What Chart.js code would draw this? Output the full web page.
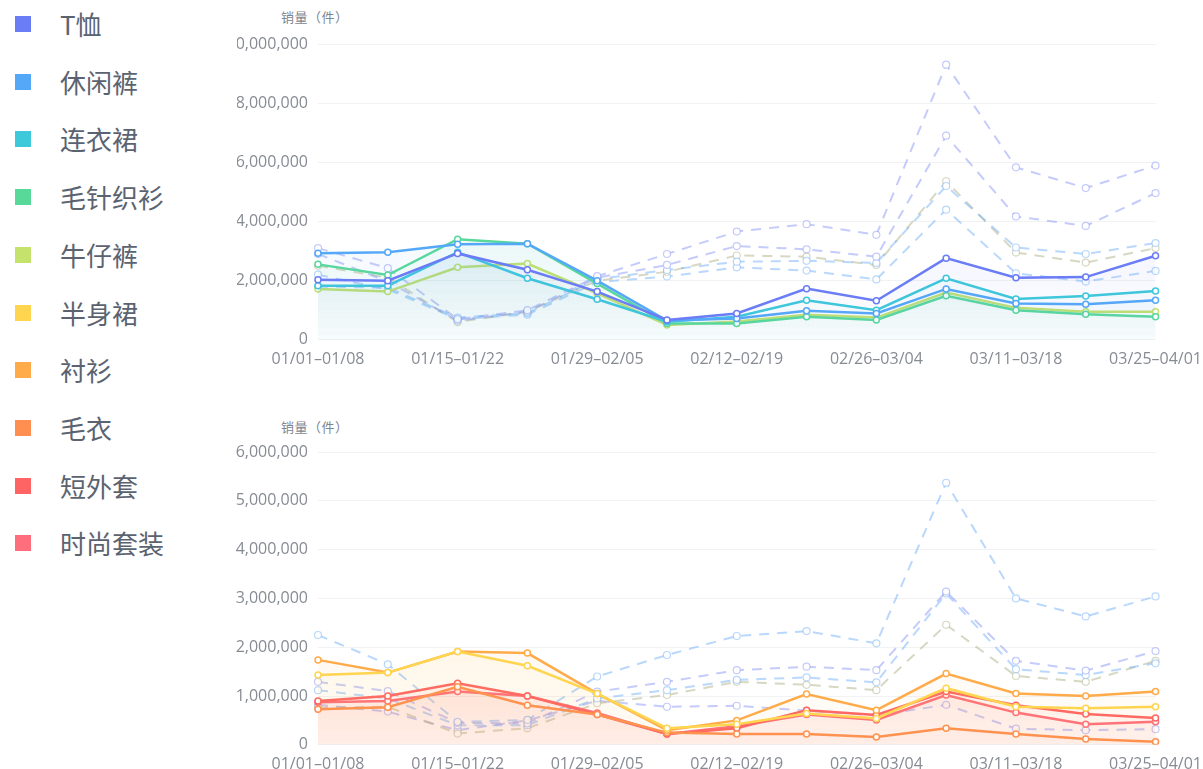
<!DOCTYPE html>
<html><head><meta charset="utf-8">
<script src="https://cdn.jsdelivr.net/npm/chart.js@4/dist/chart.umd.min.js"></script>
<style>
html,body{margin:0;padding:0;background:#fff;width:1203px;height:769px;overflow:hidden;font-family:"Noto Sans CJK SC","Noto Sans",sans-serif;}
.item{position:absolute;left:15px;height:30px;display:flex;align-items:center;}
.sw{width:16px;height:16px;margin-right:29px;flex:none;}
.lbl{font-size:26px;color:#5b6370;line-height:30px;white-space:nowrap;}
.clip{position:absolute;overflow:hidden;}
.inner{position:absolute;}
.ytitle{position:absolute;font-size:13px;color:#7d8590;line-height:16px;white-space:nowrap;letter-spacing:0.5px;}
</style></head>
<body>
<div id="legend"></div>
<div class="ytitle" style="left:281px;top:9px">销量（件）</div>
<div class="ytitle" style="left:281px;top:419px">销量（件）</div>
<div class="clip" style="left:237px;top:0;width:966px;height:380px"><div class="inner" style="left:-17px;top:0;width:992px;height:380px"><canvas id="cTop"></canvas></div></div>
<div class="clip" style="left:200px;top:410px;width:1003px;height:359px"><div class="inner" style="left:20px;top:0;width:992px;height:380px"><canvas id="cBottom"></canvas></div></div>
<script>
// ---------- DATA ----------
const categories = ['01/01–01/08','01/08–01/15','01/15–01/22','01/22–01/29','01/29–02/05','02/05–02/12','02/12–02/19','02/19–02/26','02/26–03/04','03/04–03/11','03/11–03/18','03/18–03/25','03/25–04/01'];

const topNames = ['T恤','休闲裤','连衣裙','毛针织衫','牛仔裤'];
const topColors = ['#6A7CF6','#55A8F8','#3DC9DA','#58D99A','#C4E26C'];
const tshirt   = [2030000,2000000,2920000,2370000,1630000,670000,890000,1730000,1320000,2760000,2100000,2120000,2840000];
const pants    = [2930000,2960000,3230000,3250000,2000000,650000,720000,980000,890000,1720000,1230000,1200000,1340000];
const dress    = [1830000,1830000,2960000,2080000,1370000,610000,780000,1340000,1000000,2080000,1380000,1480000,1650000];
const knit     = [2550000,2190000,3400000,3250000,1900000,550000,550000,780000,670000,1490000,1000000,860000,780000];
const jeans    = [1720000,1630000,2450000,2580000,1570000,500000,620000,850000,750000,1600000,1080000,950000,950000];

const topPrev1 = [3100000,2420000,700000,1000000,2150000,2900000,3660000,3910000,3550000,9300000,5830000,5130000,5890000];
const topPrev2 = [2900000,1970000,650000,950000,2100000,2530000,3170000,3060000,2810000,6900000,4170000,3850000,4960000];
const topPrev3 = [1800000,1760000,750000,900000,2050000,2360000,2640000,2670000,2600000,5200000,3120000,2900000,3270000];
const topPrev4 = [2500000,2100000,600000,950000,2000000,2300000,2850000,2810000,2530000,5360000,2950000,2610000,3100000];
const topPrev5 = [2200000,1700000,700000,850000,1950000,2140000,2450000,2340000,2040000,4400000,2250000,1970000,2330000];

const botNames = ['半身裙','衬衫','毛衣','短外套','时尚套装'];
const botColors = ['#FFD54F','#FFAB4A','#FF8F50','#FF6464','#FF6E7C'];
const skirt    = [1430000,1480000,1910000,1620000,1050000,340000,420000,640000,540000,1160000,780000,750000,780000];
const shirt    = [1740000,1480000,1910000,1880000,1050000,300000,500000,1040000,710000,1460000,1050000,1000000,1090000];
const sweater  = [730000,770000,1190000,810000,620000,250000,220000,220000,160000,340000,220000,120000,60000];
const jacket   = [900000,1000000,1260000,1000000,620000,220000,340000,710000,610000,1090000,810000,630000,550000];
const suit     = [870000,900000,1090000,1000000,650000,220000,380000,620000,510000,1020000,660000,420000,470000];

const botPrev1 = [2250000,1650000,470000,510000,1400000,1840000,2230000,2330000,2080000,5370000,3000000,2630000,3040000];
const botPrev2 = [1290000,1100000,450000,440000,1090000,1290000,1530000,1600000,1530000,3140000,1720000,1520000,1920000];
const botPrev3 = [1120000,950000,400000,400000,950000,1120000,1330000,1380000,1280000,3100000,1550000,1430000,1670000];
const botPrev4 = [760000,780000,230000,340000,850000,1020000,1290000,1230000,1120000,2460000,1410000,1290000,1720000];
const botPrev5 = [820000,680000,300000,500000,900000,780000,800000,700000,600000,820000,330000,300000,320000];

const topTicks = {max:10000000, step:2000000};
const botTicks = {max:6000000, step:1000000};

// dashed colours
const LAV = 'rgba(140,152,245,0.5)';
const LBL = 'rgba(115,178,250,0.5)';
const GRY = 'rgba(175,178,135,0.5)';

// ---------- LEGEND ----------
const legend = document.getElementById('legend');
topNames.concat(botNames).forEach((n,i)=>{
  const c = topColors.concat(botColors)[i];
  const d = document.createElement('div');
  d.className='item'; d.style.top=(9+57.7*i)+'px';
  d.innerHTML='<div class="sw" style="background:'+c+'"></div><div class="lbl">'+n+'</div>';
  legend.appendChild(d);
});

function rgba(hex,a){const v=parseInt(hex.slice(1),16);return 'rgba('+(v>>16&255)+','+(v>>8&255)+','+(v&255)+','+a+')';}
function grad(hex,a0,a1){
  return (ctx)=>{const ch=ctx.chart, a=ch.chartArea; if(!a) return 'transparent';
    const g=ch.ctx.createLinearGradient(0,a.top,0,a.bottom); g.addColorStop(0,rgba(hex,a0)); g.addColorStop(1,rgba(hex,a1)); return g;};
}
function solid(label,data,color,a0,a1){
  return {label,data,borderColor:color,borderWidth:2.5,pointRadius:3,pointHoverRadius:3,pointBorderWidth:1.5,
    pointBackgroundColor:'#fff',pointBorderColor:color,fill:'origin',backgroundColor:grad(color,a0,a1),tension:0};
}
function dashed(label,data,color){
  return {label,data,borderColor:color,borderWidth:2,borderDash:[10,8],pointRadius:3.5,pointBorderWidth:1.2,
    pointBackgroundColor:'#fff',pointBorderColor:color,fill:false,tension:0};
}
const FONT = {family:'"Open Sans","Noto Sans CJK SC",sans-serif',size:16};
function opts(t,padTop,padBottom){
  return {responsive:true,maintainAspectRatio:false,animation:false,
    layout:{padding:{top:padTop,bottom:padBottom,left:0,right:0}},
    plugins:{legend:{display:false},tooltip:{enabled:false}},
    scales:{
      x:{grid:{display:false,drawTicks:false},border:{display:false},
        ticks:{color:'#878b93',font:FONT,padding:10,autoSkip:false,maxRotation:0,
          callback:function(v,i){return i%2===0?this.getLabelForValue(v):'';}}},
      y:{min:0,max:t.max,grid:{color:'#f1f2f4',drawTicks:false},border:{display:false},
        afterFit:(s)=>{s.width=98;},
        ticks:{stepSize:t.step,color:'#878b93',font:FONT,padding:10,
          callback:(v)=>Number(v).toLocaleString('en-US')}}
    }};
}
new Chart(document.getElementById('cTop'),{type:'line',
  data:{labels:categories,datasets:[
    solid(topNames[0],tshirt,topColors[0],0.2,0.01),
    solid(topNames[1],pants,topColors[1],0.15,0.01),
    solid(topNames[2],dress,topColors[2],0.16,0.01),
    solid(topNames[3],knit,topColors[3],0.16,0.01),
    solid(topNames[4],jeans,topColors[4],0.15,0.01),
    dashed('T恤 同期',topPrev1,LAV),
    dashed('休闲裤 同期',topPrev2,LAV),
    dashed('连衣裙 同期',topPrev3,LBL),
    dashed('毛针织衫 同期',topPrev4,GRY),
    dashed('牛仔裤 同期',topPrev5,LBL)
  ]},options:opts(topTicks,44,1)});
new Chart(document.getElementById('cBottom'),{type:'line',
  data:{labels:categories,datasets:[
    solid(botNames[0],skirt,botColors[0],0.14,0.02),
    solid(botNames[1],shirt,botColors[1],0.15,0.03),
    solid(botNames[2],sweater,botColors[2],0.15,0.03),
    solid(botNames[3],jacket,botColors[3],0.17,0.04),
    solid(botNames[4],suit,botColors[4],0.17,0.04),
    dashed('半身裙 同期',botPrev1,LBL),
    dashed('衬衫 同期',botPrev2,LAV),
    dashed('毛衣 同期',botPrev3,LBL),
    dashed('短外套 同期',botPrev4,GRY),
    dashed('时尚套装 同期',botPrev5,LAV)
  ]},options:opts(botTicks,42,6)});
</script>
</body></html>
